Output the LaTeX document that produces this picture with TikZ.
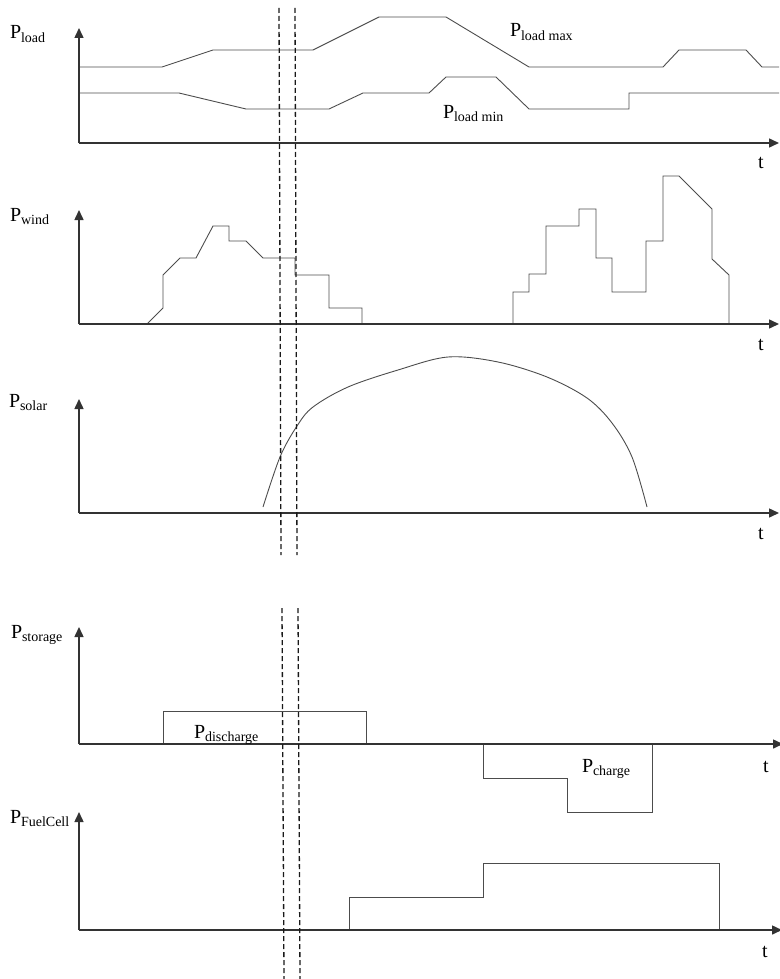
\documentclass[tikz,border=0pt]{standalone}
\usepackage{fontspec}
\setmainfont{Liberation Serif}
\usetikzlibrary{arrows.meta}
\newcommand{\PL}[1]{P\kern-0.3pt\raisebox{-3.5pt}{\fontsize{14}{15}\selectfont #1}}
\begin{document}
\begin{tikzpicture}[x=1pt,y=-1pt,
  axis/.style={line width=1.5pt, draw=black!80, -{Triangle[length=10pt,width=9pt]}},
  curve/.style={line width=0.9pt, draw=black!70},
  vdash/.style={line width=1.3pt, draw=black!90, dash pattern=on 5pt off 3pt},
  lab/.style={anchor=base west, inner sep=0pt, font=\fontsize{20}{23}\selectfont}]
\useasboundingbox (0,0) rectangle (779,979);

% ---------- panel 1: load ----------
\draw[curve] (79,67) -- (162,67) -- (213,50) -- (313,50) -- (379,17) -- (446,17) -- (529,67) -- (663,67) -- (679,50) -- (746,50) -- (762,67) -- (779,67);
\draw[curve] (79,93) -- (179,93) -- (246,109) -- (329,109) -- (363,93) -- (429,93) -- (446,77) -- (496,77) -- (529,109) -- (629,109) -- (629,93) -- (779,93);
\draw[axis] (79,143) -- (79,28);
\draw[axis] (79,143) -- (779,143);
\node[lab] (lload) at (10,39) {\PL{load}};
\node[lab] (lmax) at (510,37) {\PL{load max}};
\node[lab] (lmin) at (443,118) {\PL{load min}};
\node[lab] (t1) at (758,168) {t};

% ---------- panel 2: wind ----------
\draw[curve] (147,324) -- (163,308) -- (163,275) -- (180,258) -- (196,258) -- (213,226) -- (229,226) -- (229,241) -- (246,241) -- (263,258) -- (295,258) -- (295,275) -- (329,275) -- (329,308) -- (362,308) -- (362,324);
\draw[curve] (513,324) -- (513,292) -- (529,292) -- (529,274) -- (546,274) -- (546,226) -- (579,226) -- (579,209) -- (596,209) -- (596,258) -- (612,258) -- (612,292) -- (646,292) -- (646,241) -- (663,241) -- (663,176) -- (679,176) -- (712,209) -- (712,259) -- (729,275) -- (729,324);
\draw[axis] (79,324) -- (79,210);
\draw[axis] (79,324) -- (779,324);
\node[lab] (lwind) at (10,221) {\PL{wind}};
\node[lab] (t2) at (758,350) {t};

% ---------- panel 3: solar ----------
\draw[curve] plot[smooth, tension=0.55] coordinates {(263,507) (280,457) (297,426) (313,407) (348,387) (398,370) (448,357) (498,362) (547,377) (587,398) (612,423) (632,457) (647,507)};
\draw[axis] (79,513) -- (79,399);
\draw[axis] (79,513) -- (779,513);
\node[lab] (lsolar) at (9,407) {\PL{solar}};
\node[lab] (t3) at (758,539) {t};

% ---------- panel 4: storage ----------
\draw[curve] (163,744) -- (163,711) -- (366,711) -- (366,744);
\draw[curve] (483,744) -- (483,778) -- (567,778) -- (567,812) -- (652,812) -- (652,744);
\draw[axis] (79,744) -- (79,627);
\draw[axis] (79,744) -- (783,744);
\node[lab] (lstor) at (11,638) {\PL{storage}};
\node[lab] (ldis) at (194,738) {\PL{discharge}};
\node[lab] (lch) at (582,772) {\PL{charge}};
\node[lab] (t4) at (763,772) {t};

% ---------- panel 5: fuel cell ----------
\draw[curve] (349,930) -- (349,897) -- (483,897) -- (483,863) -- (719,863) -- (719,930);
\draw[axis] (79,930) -- (79,812);
\draw[axis] (79,930) -- (782,930);
\node[lab] (lfc) at (10,823) {\PL{FuelCell}};
\node[lab] (t5) at (762,957) {t};

% ---------- dashed time markers ----------
\coordinate (d1a) at (279,8);   \coordinate (d1b) at (281,555);
\coordinate (d2a) at (295,8);   \coordinate (d2b) at (297,555);
\coordinate (d3a) at (282,608); \coordinate (d3b) at (284,979);
\coordinate (d4a) at (298,608); \coordinate (d4b) at (300,979);
\draw[vdash] (d1a) -- (d1b);
\draw[vdash] (d2a) -- (d2b);
\draw[vdash] (d3a) -- (d3b);
\draw[vdash] (d4a) -- (d4b);
\end{tikzpicture}
\end{document}
